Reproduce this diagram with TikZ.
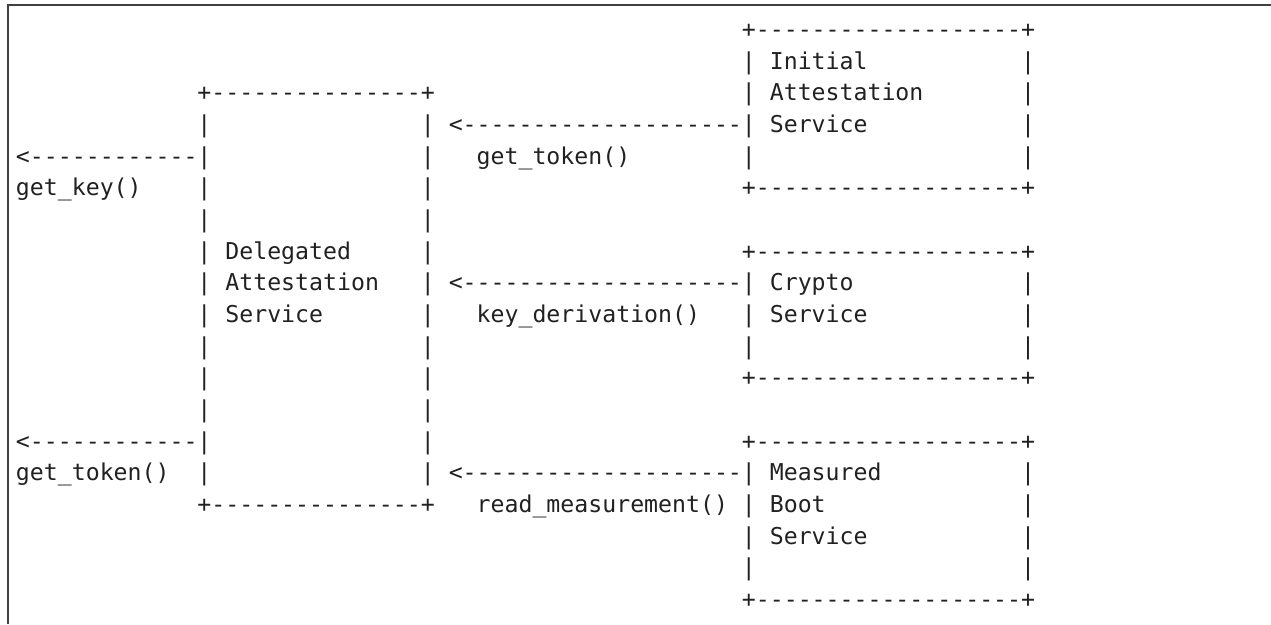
\documentclass[tikz,border=0pt]{standalone}
\usepackage{fontspec}
\setmonofont{DejaVu Sans Mono}
\frenchspacing
% character grid: column pitch and row pitch in pt, origin of column 0 / row 0
\newcommand\colw{13.96}
\newcommand\rowh{31.67}
\newcommand\cell[4]{\node[asc] (#1) at ({16+\colw*#2},{-(37.5+\rowh*#3)}) {#4};}
\tikzset{
  asc/.style={anchor=base west, inner sep=0pt, outer sep=0pt, text=black!87,
    font=\ttfamily\fontsize{23.19}{28}\selectfont},
  frameline/.style={draw=black!75, line width=1.6pt}
}
\begin{document}
\begin{tikzpicture}[x=1pt,y=1pt]
\useasboundingbox (0,0) rectangle (1271,-624);
% outer frame (top and left edges)
\coordinate (fA) at (8,-624);
\coordinate (fB) at (8,-5);
\coordinate (fC) at (1271,-5);
\draw[frameline] (fA) -- (fB) -- (fC);

% Initial Attestation Service box
\cell{iTop}{52}{0}{+-------------------+}
\cell{iL1}{52}{1}{|}\cell{iT1}{54}{1}{Initial}\cell{iR1}{72}{1}{|}
\cell{iL2}{52}{2}{|}\cell{iT2}{54}{2}{Attestation}\cell{iR2}{72}{2}{|}
\cell{iT3}{54}{3}{Service}\cell{iR3}{72}{3}{|}
\cell{iL4}{52}{4}{|}\cell{iR4}{72}{4}{|}
\cell{iBot}{52}{5}{+-------------------+}

% Delegated Attestation Service box
\cell{dTop}{13}{2}{+---------------+}
\cell{dL3}{13}{3}{|}\cell{dR3}{29}{3}{|}
\cell{dR4}{29}{4}{|}
\cell{dL5}{13}{5}{|}\cell{dR5}{29}{5}{|}
\cell{dL6}{13}{6}{|}\cell{dR6}{29}{6}{|}
\cell{dL7}{13}{7}{|}\cell{dT7}{15}{7}{Delegated}\cell{dR7}{29}{7}{|}
\cell{dL8}{13}{8}{|}\cell{dT8}{15}{8}{Attestation}\cell{dR8}{29}{8}{|}
\cell{dL9}{13}{9}{|}\cell{dT9}{15}{9}{Service}\cell{dR9}{29}{9}{|}
\cell{dL10}{13}{10}{|}\cell{dR10}{29}{10}{|}
\cell{dL11}{13}{11}{|}\cell{dR11}{29}{11}{|}
\cell{dL12}{13}{12}{|}\cell{dR12}{29}{12}{|}
\cell{dR13}{29}{13}{|}
\cell{dL14}{13}{14}{|}\cell{dR14}{29}{14}{|}
\cell{dBot}{13}{15}{+---------------+}

% Crypto Service box
\cell{cTop}{52}{7}{+-------------------+}
\cell{cT8}{54}{8}{Crypto}\cell{cR8}{72}{8}{|}
\cell{cL9}{52}{9}{|}\cell{cT9}{54}{9}{Service}\cell{cR9}{72}{9}{|}
\cell{cL10}{52}{10}{|}\cell{cR10}{72}{10}{|}
\cell{cBot}{52}{11}{+-------------------+}

% Measured Boot Service box
\cell{mTop}{52}{13}{+-------------------+}
\cell{mT14}{54}{14}{Measured}\cell{mR14}{72}{14}{|}
\cell{mL15}{52}{15}{|}\cell{mT15}{54}{15}{Boot}\cell{mR15}{72}{15}{|}
\cell{mL16}{52}{16}{|}\cell{mT16}{54}{16}{Service}\cell{mR16}{72}{16}{|}
\cell{mL17}{52}{17}{|}\cell{mR17}{72}{17}{|}
\cell{mBot}{52}{18}{+-------------------+}

% calls into the Delegated Attestation Service
\cell{aIni}{31}{3}{<--------------------|}
\cell{lIni}{33}{4}{get\_token()}
\cell{aCry}{31}{8}{<--------------------|}
\cell{lCry}{33}{9}{key\_derivation()}
\cell{aMea}{31}{14}{<--------------------|}
\cell{lMea}{33}{15}{read\_measurement()}

% calls offered to the caller on the left
\cell{aKey}{0}{4}{<------------|}
\cell{lKey}{0}{5}{get\_key()}
\cell{aTok}{0}{13}{<------------|}
\cell{lTok}{0}{14}{get\_token()}
\end{tikzpicture}
\end{document}
